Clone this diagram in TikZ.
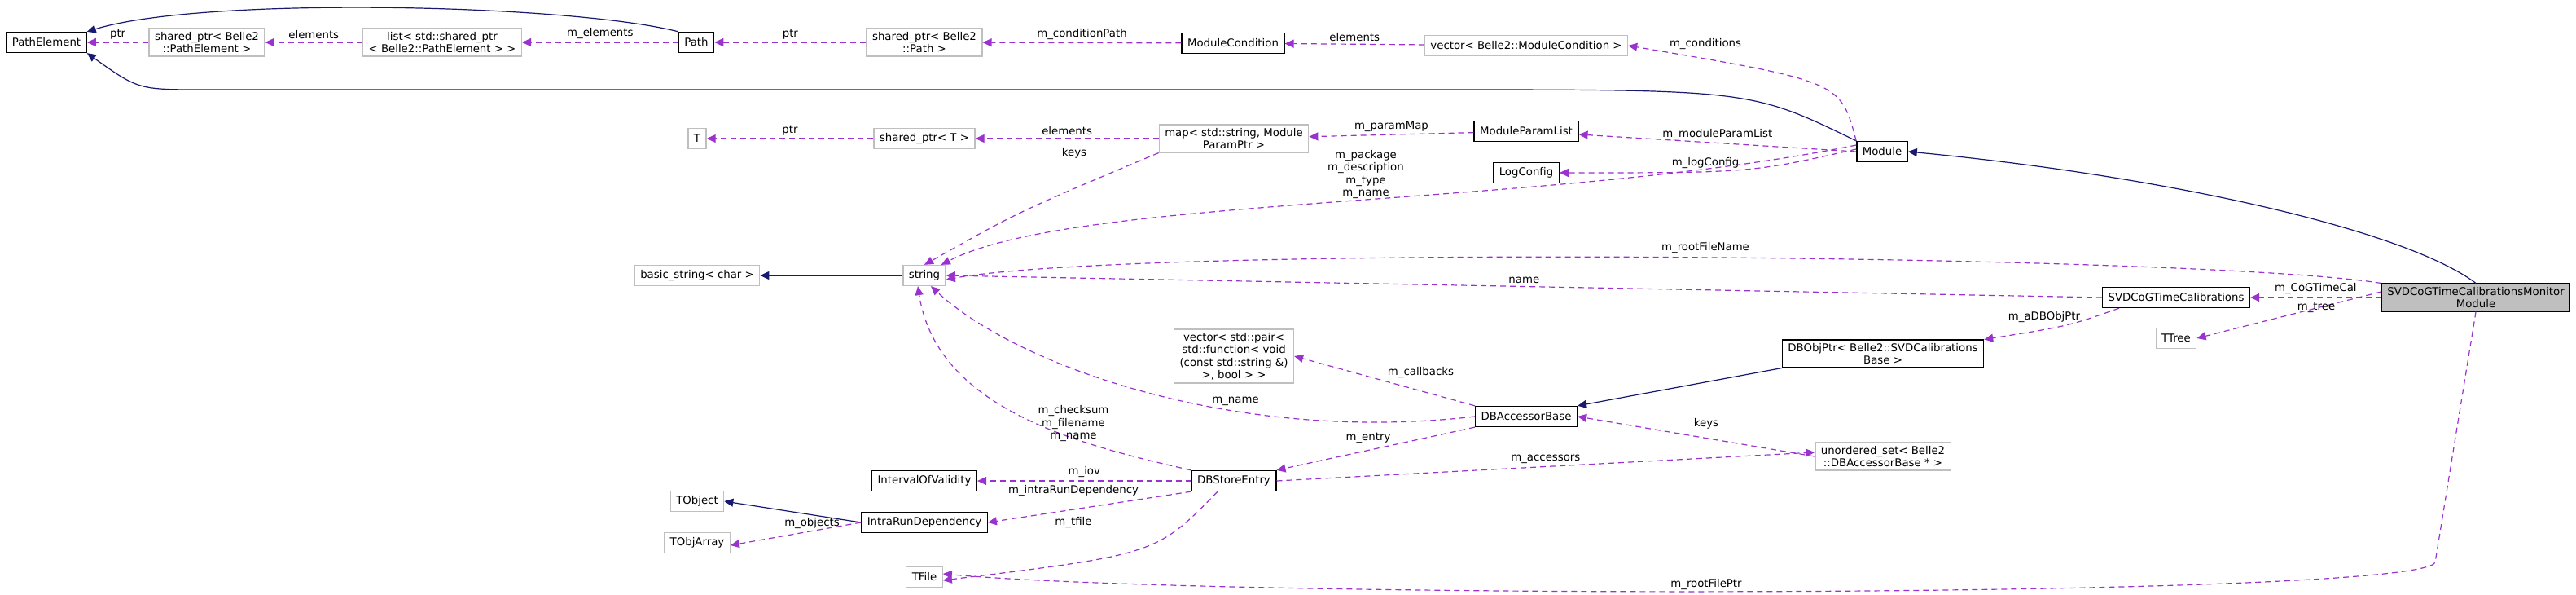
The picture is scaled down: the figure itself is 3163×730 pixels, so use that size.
\documentclass[tikz,border=0pt]{standalone}
\usepackage{fontspec}
\setmainfont{DejaVu Sans}
\usetikzlibrary{arrows.meta,positioning}
\definecolor{usecol}{HTML}{9A32CD}
\definecolor{inhcol}{HTML}{191970}
\definecolor{undoc}{HTML}{BFBFBF}
\tikzset{
  >={Triangle[length=11pt,width=10pt]},
  cls/.style  ={draw, line width=1.3pt, inner xsep=7pt, inner ysep=4pt, minimum height=25pt,
                align=center, font=\fontsize{13.3}{15.5}\selectfont},
  ext/.style  ={cls, draw=undoc},
  self/.style ={cls, fill=undoc},
  inh/.style  ={->, draw=inhcol, line width=1.2pt},
  use/.style  ={->, draw=usecol, dash pattern=on 7pt off 5pt, line width=1.2pt},
  lbl/.style  ={align=center, font=\fontsize{13.3}{15.5}\selectfont}
}
\begin{document}
\begin{tikzpicture}[x=1pt,y=-1pt]
\useasboundingbox (0,0) rectangle (3163,730);
% classes
\node[cls]  (pathelem)  at (57,52)   {PathElement};
\node[ext]  (sppathel)  at (254,52)  {shared\_ptr< Belle2\\::PathElement >};
\node[ext]  (listpe)    at (543,52)  {list< std::shared\_ptr\\< Belle2::PathElement > >};
\node[cls]  (path)      at (855,52)  {Path};
\node[ext]  (sppath)    at (1135,52) {shared\_ptr< Belle2\\::Path >};
\node[cls]  (modcond)   at (1514,53) {ModuleCondition};
\node[ext]  (vecmc)     at (1874,56) {vector< Belle2::ModuleCondition >};
\node[ext]  (tpl)       at (856,170) {T};
\node[ext]  (spt)       at (1135,170){shared\_ptr< T >};
\node[ext]  (parmap)    at (1515,170){map< std::string, Module\\ParamPtr >};
\node[cls]  (mplist)    at (1874,161){ModuleParamList};
\node[cls]  (logcfg)    at (1874,212){LogConfig};
\node[cls]  (module)    at (2311,186){Module};
\node[ext]  (bstring)   at (856,338) {basic\_string< char >};
\node[ext]  (string)    at (1135,338){string};
\node[cls]  (cogcal)    at (2672,365){SVDCoGTimeCalibrations};
\node[self] (monitor)   at (3040,365){SVDCoGTimeCalibrationsMonitor\\Module};
\node[ext]  (ttree)     at (2672,415){TTree};
\node[cls]  (dbobjptr)  at (2312,434){DBObjPtr< Belle2::SVDCalibrations\\Base >};
\node[ext]  (vecpair)   at (1515,437){vector< std::pair<\\std::function< void\\(const std::string \&)\\>, bool > >};
\node[cls]  (dbacc)     at (1874,511){DBAccessorBase};
\node[ext]  (uset)      at (2312,560){unordered\_set< Belle2\\::DBAccessorBase * >};
\node[cls]  (dbstore)   at (1515,590){DBStoreEntry};
\node[cls]  (iov)       at (1135,590){IntervalOfValidity};
\node[cls]  (intrarun)  at (1135,641){IntraRunDependency};
\node[ext]  (tobject)   at (856,615) {TObject};
\node[ext]  (tobjarr)   at (856,666) {TObjArray};
\node[ext]  (tfile)     at (1135,708){TFile};
% inheritance
\draw[inh] (path.north west) .. controls (700,5) and (250,-5) .. (pathelem.north east);
\draw[inh] (module.north west) .. controls (2150,110) .. (1760,110) -- (250,110)
  .. controls (170,110) .. (pathelem.south east);
\draw[inh] (monitor.north) .. controls (2950,280) and (2650,215) .. (module.east);
\draw[inh] (string) -- (bstring);
\draw[inh] (dbobjptr.south west) -- (dbacc.north east);
\draw[inh] (intrarun.west) -- (tobject.east);
% members
\draw[use] (sppathel) -- node[lbl,above]{ptr} (pathelem);
\draw[use] (listpe) -- node[lbl,above]{elements} (sppathel);
\draw[use] (path) -- node[lbl,above]{m\_elements} (listpe);
\draw[use] (sppath) -- node[lbl,above]{ptr} (path);
\draw[use] (modcond) -- node[lbl,above]{m\_conditionPath} (sppath);
\draw[use] (vecmc) -- node[lbl,above]{elements} (modcond);
\draw[use] (module.north west) .. controls (2260,100) .. (vecmc.east);
\node[lbl] (lcond) at (2094,54) {m\_conditions};
\draw[use] (spt) -- node[lbl,above]{ptr} (tpl);
\draw[use] (parmap) -- node[lbl,above]{elements} (spt);
\draw[use] (parmap.south west) .. controls (1250,260) .. (string.north);
\node[lbl] (lkeys) at (1319,188) {keys};
\draw[use] (mplist) -- node[lbl,above]{m\_paramMap} (parmap);
\draw[use] (module.west) -- node[lbl,above]{m\_moduleParamList} (mplist);
\draw[use] ([yshift=3pt]module.west) .. controls (2150,212) .. (logcfg.east);
\node[lbl] (llog) at (2094,200) {m\_logConfig};
\draw[use] ([yshift=8pt]module.west) .. controls (1900,255) and (1320,240) .. ([xshift=-6pt]string.north east);
\node[lbl] (lmod) at (1677,214) {m\_package\\m\_description\\m\_type\\m\_name};
\draw[use] (monitor.north west) .. controls (2700,312) and (1400,300) .. ([yshift=-5pt]string.east);
\node[lbl] (lroot) at (2094,304) {m\_rootFileName};
\draw[use] (cogcal.west) -- node[lbl,above]{name} (string.east);
\draw[use] (monitor.west) -- node[lbl,above]{m\_CoGTimeCal} (cogcal.east);
\draw[use] ([yshift=7pt]monitor.west) -- (ttree.east);
\node[lbl] (ltree) at (2844,377) {m\_tree};
\draw[use] ([xshift=-70pt]cogcal.south) .. controls (2540,400) .. (dbobjptr.north east);
\node[lbl] (lobj) at (2510,389) {m\_aDBObjPtr};
\draw[use] (dbacc.north west) -- node[lbl,above right]{m\_callbacks} (vecpair.east);
\draw[use] (dbacc.west) .. controls (1520,545) and (1250,450) .. ([xshift=8pt]string.south);
\node[lbl] (lname) at (1517,492) {m\_name};
\draw[use] (dbacc.south west) -- (dbstore.north east);
\node[lbl] (lentry) at (1680,537) {m\_entry};
\draw[use] (uset.west) -- (dbacc.east);
\node[lbl] (lkeys2) at (2095,520) {keys};
\draw[use] (dbstore.east) -- node[lbl,above]{m\_accessors} ([yshift=5pt]uset.west);
\draw[use] (dbstore.north west) .. controls (1320,545) and (1150,500) .. ([xshift=-8pt]string.south);
\node[lbl] (lsum) at (1318,520) {m\_checksum\\m\_filename\\m\_name};
\draw[use] (dbstore) -- node[lbl,above]{m\_iov} (iov);
\draw[use] (dbstore.south west) -- (intrarun.east);
\node[lbl] (lintra) at (1318,602) {m\_intraRunDependency};
\draw[use] ([xshift=-20pt]dbstore.south) .. controls (1420,680) .. ([yshift=-4pt]tfile.east);
\node[lbl] (ltfile) at (1318,641) {m\_tfile};
\draw[use] (intrarun.west) -- ([yshift=-3pt]tobjarr.east);
\node[lbl] (lobjs) at (997,642) {m\_objects};
\draw[use] (monitor.south) -- (2990,690) .. controls (2970,735) and (1500,735) .. ([yshift=4pt]tfile.east);
\node[lbl] (lrfp) at (2095,717) {m\_rootFilePtr};
\end{tikzpicture}
\end{document}
